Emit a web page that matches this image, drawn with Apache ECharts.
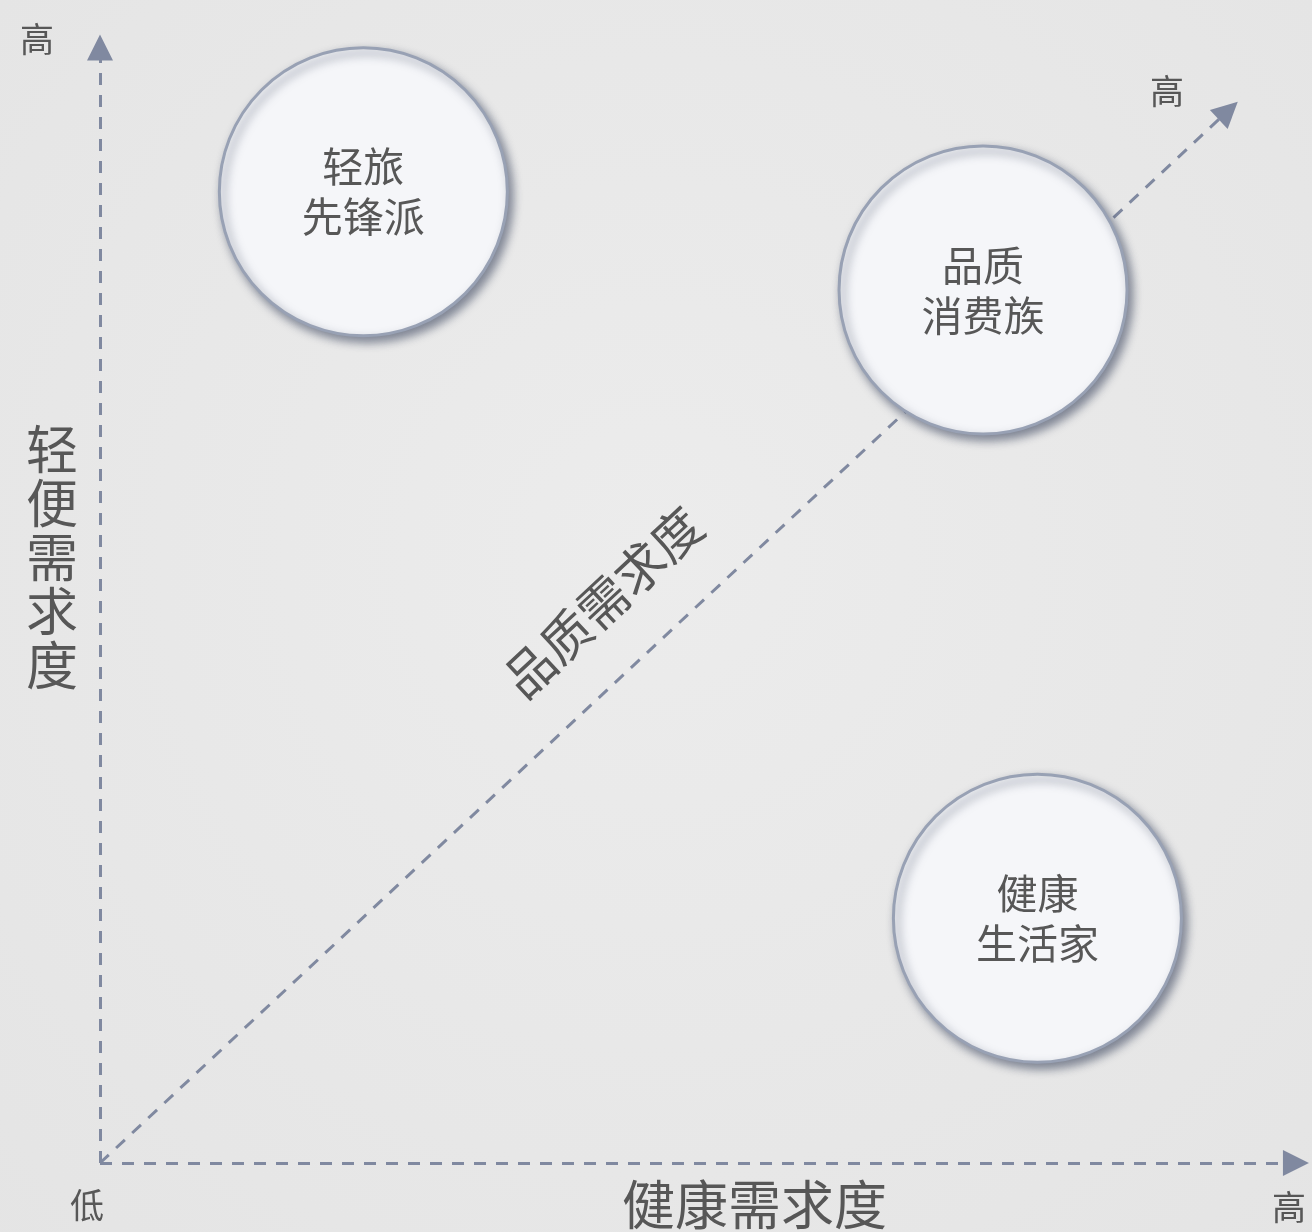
<!DOCTYPE html>
<html>
<head>
<meta charset="utf-8">
<script src="https://cdn.jsdelivr.net/npm/echarts@6/dist/echarts.min.js"></script>
<style>
html,body{margin:0;padding:0;background:#e8e8e8;}
#main{width:1312px;height:1232px;}
</style>
</head>
<body>
<div id="main"></div>
<script>
// 人群定位：x = 健康需求度, y = 轻便需求度
var groupNames = ['轻旅\n先锋派', '品质\n消费族', '健康\n生活家'];
var healthNeed = [21.8, 73.1, 77.6];
var lightNeed = [86.1, 77.4, 21.7];

// 三条坐标轴（起点、终点）
var axisFrom = [[0, 0], [0, 0], [0, 0]];
var axisTo = [[99.0, 0], [0, 98.9], [93.4, 93.3]];

var fontCN = '"Noto Sans CJK SC", sans-serif';
var textGray = '#575757';
var axisColor = '#8089a0';

var myChart = echarts.init(document.getElementById('main'));

var points = [];
for (var i = 0; i < groupNames.length; i++) {
	points.push({ name: groupNames[i], value: [healthNeed[i], lightNeed[i]] });
}
var arrows = [];
for (var j = 0; j < axisFrom.length; j++) {
	arrows.push({ coords: [axisFrom[j], axisTo[j]] });
}

var option = {
	backgroundColor: {
		type: 'radial', x: 0.5, y: 0.45, r: 0.8,
		colorStops: [{ offset: 0, color: '#ececec' }, { offset: 1, color: '#e4e4e4' }]
	},
	animation: false,
	grid: { left: 100, right: 4, top: 35, bottom: 69 },
	xAxis: { type: 'value', min: 0, max: 100, show: false },
	yAxis: { type: 'value', min: 0, max: 100, show: false },
	graphic: [
		{ type: 'text', left: 20, top: 22, style: { text: '高', font: '34px ' + fontCN, fill: textGray } },
		{ type: 'text', left: 70, top: 1188, style: { text: '低', font: '34px ' + fontCN, fill: textGray } },
		{ type: 'text', left: 1272, top: 1190, style: { text: '高', font: '34px ' + fontCN, fill: textGray } },
		{ type: 'text', left: 1150, top: 74, style: { text: '高', font: '34px ' + fontCN, fill: textGray } },
		{ type: 'text', left: 26, top: 422, style: { text: '轻\n便\n需\n求\n度', font: '52px ' + fontCN, lineHeight: 54, fill: textGray } },
		{ type: 'text', left: 622, top: 1178, style: { text: '健康需求度', font: '53px ' + fontCN, fill: textGray } },
		{
			type: 'text', x: 603, y: 602, rotation: 43 * Math.PI / 180,
			style: { text: '品质需求度', font: '50px ' + fontCN, fill: textGray, align: 'center', verticalAlign: 'middle' }
		}
	],
	series: [
		{
			type: 'lines',
			coordinateSystem: 'cartesian2d',
			clip: false,
			z: 1,
			symbol: ['none', 'triangle'],
			symbolSize: [24, 26],
			lineStyle: { color: axisColor, width: 3, type: [12, 10], opacity: 1 },
			itemStyle: { color: '#6d7b97' },
			data: arrows
		},
		{
			type: 'scatter',
			z: 3,
			clip: false,
			symbol: 'circle',
			symbolSize: 288,
			itemStyle: {
				color: '#f5f6f9',
				borderColor: '#98a1b4',
				borderWidth: 3,
				shadowColor: 'rgba(55,65,90,0.6)',
				shadowBlur: 10,
				shadowOffsetX: 4,
				shadowOffsetY: 5,
				opacity: 1
			},
			label: {
				show: true,
				position: 'inside',
				formatter: '{b}',
				color: textGray,
				fontFamily: fontCN,
				fontSize: 41,
				lineHeight: 50,
				align: 'center'
			},
			emphasis: { disabled: true },
			data: points
		}
	]
};

myChart.setOption(option);
</script>
</body>
</html>
